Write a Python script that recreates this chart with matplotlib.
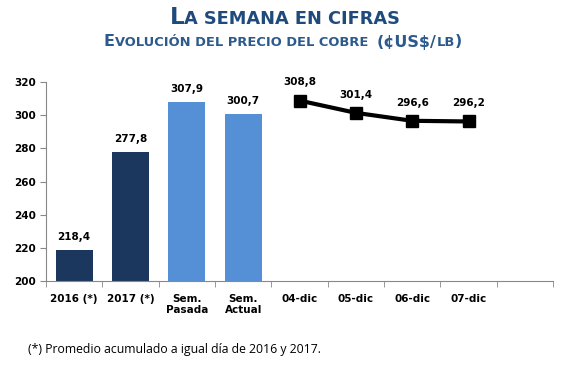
import matplotlib
matplotlib.use("Agg")
import matplotlib.pyplot as plt
from matplotlib.offsetbox import TextArea, HPacker, AnchoredOffsetbox

categories = ["2016 (*)", "2017 (*)", "Sem.\nPasada", "Sem.\nActual",
              "04-dic", "05-dic", "06-dic", "07-dic"]
bar_values = [218.4, 277.8, 307.9, 300.7]
bar_colors = ["#1c375e", "#1c375e", "#5590d6", "#5590d6"]
day_values = [308.8, 301.4, 296.6, 296.2]

plt.rcParams["font.family"] = ["DejaVu Sans"]

fig = plt.figure(figsize=(5.85, 3.68), dpi=100)
ax = fig.add_axes([46/585, 1-281/368, (553-46)/585, (281-82)/368])

xb = list(range(len(bar_values)))
ax.bar(xb, [v - 200 for v in bar_values], bottom=200, width=0.66, color=bar_colors)
for x, v in zip(xb, bar_values):
    ax.text(x, v + 5, f"{v:.1f}".replace(".", ","), ha="center", va="bottom",
            fontsize=7.5, fontweight="bold")

xl = list(range(len(bar_values), len(bar_values) + len(day_values)))
ax.plot(xl, day_values, color="black", lw=3, marker="s", markersize=9)
for x, v in zip(xl, day_values):
    ax.text(x, v + 8, f"{v:.1f}".replace(".", ","), ha="center", va="bottom",
            fontsize=7.5, fontweight="bold")

ax.set_xlim(-0.5, 8.5)
ax.set_ylim(200, 320)
ax.set_yticks(range(200, 321, 20))
ax.set_xticks(range(len(categories)))
ax.set_xticklabels(categories, fontsize=7.5, fontweight="bold")
ax.set_xticks([i + 0.5 for i in range(-1, 9)], minor=True)
ax.tick_params(axis="x", which="major", length=0, pad=9)
ax.tick_params(axis="x", which="minor", length=4, color="#888888")
ax.tick_params(axis="y", length=4, color="#888888", labelsize=7.5)
for lab in ax.get_yticklabels():
    lab.set_fontweight("bold")
for s in ["top", "right"]:
    ax.spines[s].set_visible(False)
for s in ["left", "bottom"]:
    ax.spines[s].set_color("#888888")

# small-caps style titles
def smallcaps(parts, color):
    boxes = [TextArea(t, textprops=dict(fontsize=fs, fontweight="bold", color=color))
             for t, fs in parts]
    return HPacker(children=boxes, align="baseline", pad=0, sep=0)

title = smallcaps([("L", 16.5), ("A SEMANA EN CIFRAS", 12.8)], "#1f4a7c")
sub = smallcaps([("E", 11.5), ("VOLUCIÓN DEL PRECIO DEL COBRE  ", 9.4),
                 ("(¢US$/", 11.5), ("LB", 9.4), (")", 11.5)], "#2c5a8c")
fig.add_artist(AnchoredOffsetbox(loc="center", child=title, frameon=False, pad=0,
                                 bbox_to_anchor=(285/585, 1-18/368),
                                 bbox_transform=fig.transFigure))
fig.add_artist(AnchoredOffsetbox(loc="center", child=sub, frameon=False, pad=0,
                                 bbox_to_anchor=(283/585, 1-42/368),
                                 bbox_transform=fig.transFigure))

fig.text(28/585, 1-349/368, "(*) Promedio acumulado a igual día de 2016 y 2017.",
         fontsize=8.8, va="center", family="Open Sans")

fig.savefig("out.png", dpi=100)
